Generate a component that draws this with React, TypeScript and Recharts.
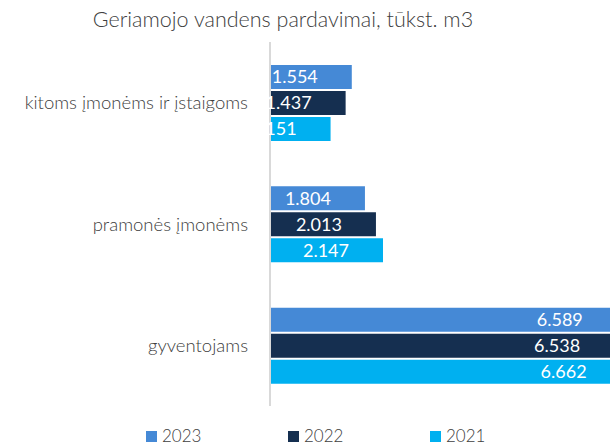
import { BarChart, Bar, XAxis, YAxis, LabelList, Legend } from 'recharts'

/* ─── Data ─── */

const categories = ['kitoms įmonėms ir įstaigoms', 'pramonės įmonėms', 'gyventojams']
const values2023 = [1554, 1804, 6589]
const values2022 = [1437, 2013, 6538]
const values2021 = [1151, 2147, 6662]

const seriesNames = ['2023', '2022', '2021']
const seriesColors = ['#4589d6', '#152f50', '#00b0f0']

const data = categories.map((name, i) => ({
  name,
  y2023: values2023[i],
  y2022: values2022[i],
  y2021: values2021[i],
}))

const FONT = 'Lato, "Open Sans", sans-serif'

/* ─── Helpers ─── */

function formatValue(v: any): string {
  return String(v).replace(/\B(?=(\d{3})+(?!\d))/g, '.')
}

function LegendContent() {
  return (
    <div style={{ display: 'flex', paddingLeft: 146, fontFamily: FONT }}>
      {seriesNames.map((s, i) => (
        <div key={s} style={{ width: 142, display: 'flex', alignItems: 'center' }}>
          <span style={{ width: 11, height: 11, background: seriesColors[i], display: 'inline-block', marginRight: 5 }} />
          <span style={{ fontSize: 17, fontWeight: 300, color: '#404040', lineHeight: '18px' }}>{s}</span>
        </div>
      ))}
    </div>
  )
}

/* ─── Main component ─── */

export default function App() {
  return (
    <div style={{ position: 'absolute', left: 0, top: 0, width: 610, height: 445, background: '#fff', overflow: 'hidden' }}>
      <div
        style={{
          position: 'absolute',
          top: 6,
          left: 0,
          width: 566,
          textAlign: 'center',
          fontFamily: FONT,
          fontSize: 21.5,
          fontWeight: 300,
          color: '#404040',
        }}
      >
        Geriamojo vandens pardavimai, tūkst. m3
      </div>
      <BarChart
        width={610}
        height={445}
        data={data}
        layout="vertical"
        margin={{ top: 42, right: 0, bottom: 39, left: 0 }}
        barSize={24}
        barGap={2}
      >
        <XAxis type="number" hide domain={[0, 6460]} allowDataOverflow />
        <YAxis
          type="category"
          dataKey="name"
          width={270}
          axisLine={{ stroke: '#d9d9d9', strokeWidth: 2 }}
          tickLine={false}
          tickMargin={16}
          tick={{ fill: '#404040', fontSize: 18.5, fontWeight: 300, fontFamily: FONT }}
        />
        <Legend
          layout="horizontal"
          verticalAlign="middle"
          align="center"
          content={<LegendContent />}
          wrapperStyle={{ top: 427, left: 0, width: 610 }}
        />
        {['y2023', 'y2022', 'y2021'].map((key, i) => (
          <Bar key={key} dataKey={key} name={seriesNames[i]} fill={seriesColors[i]} isAnimationActive={false}>
            <LabelList
              dataKey={key}
              position="insideRight"
              offset={34}
              formatter={formatValue}
              style={{ fill: '#ffffff', fontSize: 18, fontFamily: FONT }}
            />
          </Bar>
        ))}
      </BarChart>
    </div>
  )
}
